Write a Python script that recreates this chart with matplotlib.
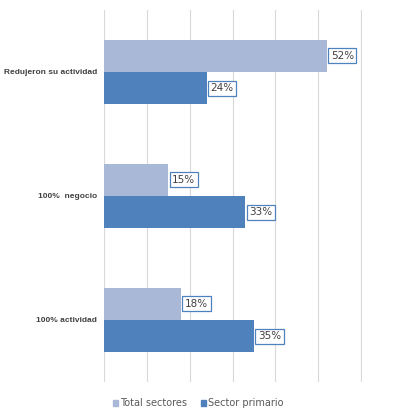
import matplotlib.pyplot as plt
from matplotlib.patches import Patch

# Data
categories = ["Redujeron su actividad", "100%  negocio", "100% actividad"]
total_sectores = [52, 15, 18]
sector_primario = [24, 33, 35]

light = "#A9B8D7"
dark = "#4F81BD"

fig = plt.figure(figsize=(3.96, 4.2), dpi=100)
ax = fig.add_axes([0.2626, 0.0905, 0.6515, 0.8857])

y = list(range(len(categories)))
h = 0.26
ax.barh([i - h / 2 for i in y], total_sectores, height=h, color=light, zorder=2)
ax.barh([i + h / 2 for i in y], sector_primario, height=h, color=dark, zorder=2)

# value labels in boxes
box = dict(boxstyle="square,pad=0.25", fc="white", ec=dark, lw=0.9)
for i in y:
    ax.text(total_sectores[i] + 0.9, i - h / 2, f"{total_sectores[i]}%", va="center",
            ha="left", fontsize=7.5, color="#404040", bbox=box, zorder=3)
    ax.text(sector_primario[i] + 0.9, i + h / 2, f"{sector_primario[i]}%", va="center",
            ha="left", fontsize=7.5, color="#404040", bbox=box, zorder=3)

ax.set_xlim(0, 60.2)
ax.set_ylim(2.5, -0.5)
ax.set_xticks(range(0, 61, 10))
ax.set_xticklabels([])
ax.tick_params(axis="x", length=0)
ax.tick_params(axis="y", length=0, pad=5)
ax.set_yticks(y)
ax.set_yticklabels(categories, fontsize=6.0, fontweight="bold", color="#404040",
                   family="Liberation Sans")
ax.grid(axis="x", color="#D9D9D9", lw=0.8, zorder=0)
for s in ax.spines.values():
    s.set_visible(False)

handles = [Patch(color=light, label="Total sectores"), Patch(color=dark, label="Sector primario")]
fig.legend(handles=handles, loc="center", bbox_to_anchor=(0.5, 0.04), ncol=2, frameon=False,
           fontsize=7, handlelength=0.55, handleheight=0.55, handletextpad=0.2,
           columnspacing=1.4, labelcolor="#595959")

fig.savefig("out.png", dpi=100)
